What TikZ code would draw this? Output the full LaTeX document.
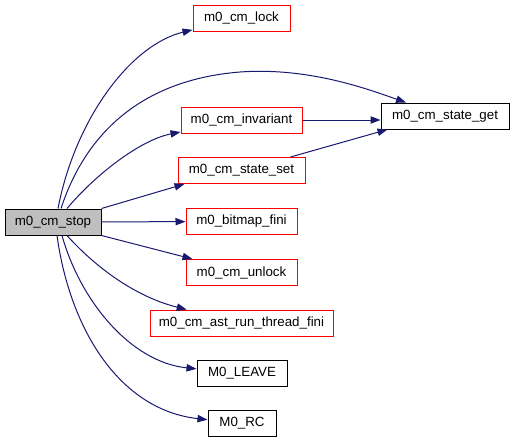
\documentclass[tikz,border=0pt]{standalone}
\usepackage{fontspec}
\setmainfont{Liberation Sans}
\usetikzlibrary{arrows.meta,calc}
\definecolor{navyedge}{RGB}{25,25,112}
\begin{document}
\begin{tikzpicture}[x=0.75pt,y=-0.75pt,
  box/.style={draw=red, line width=0.75pt, minimum height=19.5pt, inner sep=0pt,
    font=\fontsize{10}{12}\selectfont, minimum width=#1*0.75pt},
  blackbox/.style={box=#1, draw=black},
  startbox/.style={box=#1, draw=black, fill=black!25},
  edge/.style={draw=navyedge, line width=0.75pt, -{Triangle[length=7.5pt,width=5.5pt]}}]
\useasboundingbox (0,0) rectangle (513,443);
\node[startbox=96] (stop) at (53,222) {m0\_cm\_stop};
\node[box=97] (lock) at (241.5,18) {m0\_cm\_lock};
\node[blackbox=128] (get) at (445,116) {m0\_cm\_state\_get};
\node[box=121] (inv) at (241.5,120) {m0\_cm\_invariant};
\node[box=127] (set) at (241.5,170.5) {m0\_cm\_state\_set};
\node[box=111] (bmp) at (241.5,221.5) {m0\_bitmap\_fini};
\node[box=111] (unl) at (241.5,272.5) {m0\_cm\_unlock};
\node[box=183] (ast) at (241.5,323) {m0\_cm\_ast\_run\_thread\_fini};
\node[blackbox=90] (lea) at (242,373.5) {M0\_LEAVE};
\node[blackbox=68] (rc) at (242,423.5) {M0\_RC};

\draw[edge] ($(stop.north)+(5,0)$) .. controls (75,120) and (130,45) .. (lock);
\draw[edge] ($(stop.north)+(8,0)$) .. controls (85,135) and (140,80) .. (240,72)
   .. controls (310,67) and (370,90) .. (get);
\draw[edge] ($(stop.north)+(14,0)$) .. controls (95,175) and (140,140) .. (inv);
\draw[edge] (stop.north east) -- ($(set.south west)+(7,0)$);
\draw[edge] (stop) -- (bmp);
\draw[edge] (stop.south east) -- ($(unl.north west)+(7,0)$);
\draw[edge] ($(stop.south)+(14,0)$) .. controls (100,272) and (140,298) .. (ast);
\draw[edge] ($(stop.south)+(9,0)$) .. controls (80,300) and (130,362) .. (lea);
\draw[edge] ($(stop.south)+(4,0)$) .. controls (70,330) and (120,410) .. (rc);
\draw[edge] (inv.east) -- (get.west |- inv.east);
\draw[edge] ($(set.north east)+(-15,0)$) -- ($(get.south west)+(7,0)$);
\end{tikzpicture}
\end{document}
